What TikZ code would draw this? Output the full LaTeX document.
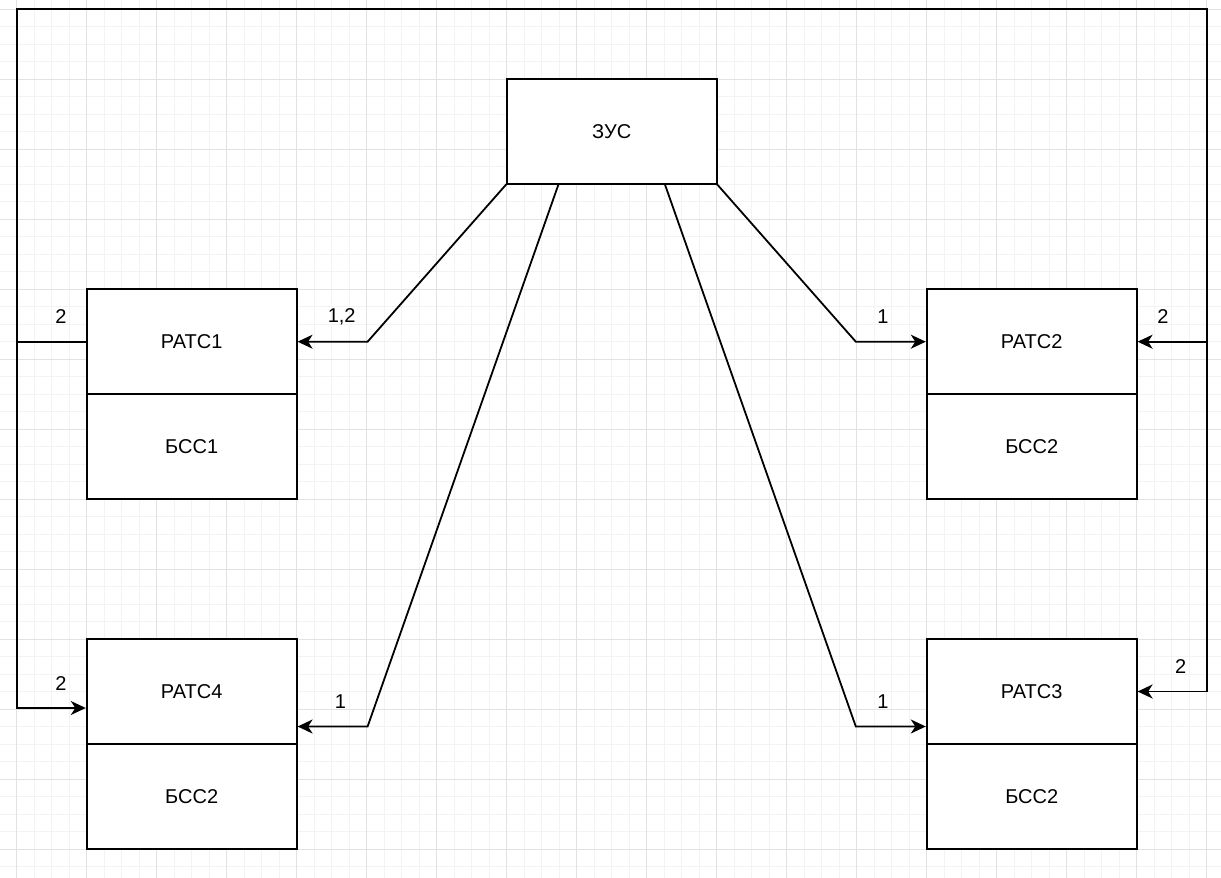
\documentclass[tikz,border=0pt]{standalone}
\usepackage{fontspec}
\setmainfont{Liberation Sans}
\usetikzlibrary{arrows.meta,calc}
\tikzset{
  blk/.style={draw=black, fill=white, line width=1.8pt, minimum width=210pt, minimum height=105pt, inner sep=0pt, font=\fontsize{20}{24}\selectfont},
  wire/.style={draw=black, line width=1.8pt, line cap=rect},
  arr/.style={wire, -{Stealth[length=15pt,width=14pt,inset=4.5pt]}},
  lbl/.style={font=\fontsize{20}{24}\selectfont, inner sep=0pt},
  gminor/.style={draw={rgb,255:red,243;green,243;blue,243}, line width=0.8pt},
  gmajor/.style={draw={rgb,255:red,226;green,226;blue,226}, line width=0.9pt}
}
\begin{document}
\begin{tikzpicture}[x={(1pt,0)}, y={(0,-1pt)}]
\fill[white] (0,0) rectangle (1221,878);
\useasboundingbox (0,0) rectangle (1221,878);
% grid
\foreach \i in {0,...,70} {
  \pgfmathsetmacro{\gx}{-0.8+17.5*\i}
  \draw[gminor] (\gx,0) -- (\gx,878);
}
\foreach \i in {0,...,51} {
  \pgfmathsetmacro{\gy}{-8.5+17.5*\i}
  \draw[gminor] (0,\gy) -- (1221,\gy);
}
\foreach \i in {0,...,17} {
  \pgfmathsetmacro{\gx}{16.7+70*\i}
  \draw[gmajor] (\gx,0) -- (\gx,878);
}
\foreach \i in {0,...,12} {
  \pgfmathsetmacro{\gy}{9+70*\i}
  \draw[gmajor] (0,\gy) -- (1221,\gy);
}
% blocks
\node[blk] (zus) at (611.7,131.5) {ЗУС};
\node[blk] (r1) at (191.7,341.7) {РАТС1};
\node[blk] (b1) at (191.7,446.5) {БСС1};
\node[blk] (r4) at (191.7,691.5) {РАТС4};
\node[blk] (b4) at (191.7,796.5) {БСС2};
\node[blk] (r2) at (1031.7,341.7) {РАТС2};
\node[blk] (b2) at (1031.7,446.5) {БСС2};
\node[blk] (r3) at (1031.7,691.5) {РАТС3};
\node[blk] (b3) at (1031.7,796.5) {БСС2};
% frame corners
\coordinate (tl) at (16.7,9);
\coordinate (tr) at (1206.7,9);
% connectors from ZUS
\draw[arr, line join=miter] (zus.south west) -- ($(r1.east)+(70,0)$) -- (r1.east);
\draw[arr, line join=miter] ($(zus.south west)+(52.5,0)$) -- ($(r4.east)+(70,35)$) -- ($(r4.east)+(0,35)$);
\draw[arr, line join=miter] ($(zus.south east)+(-52.5,0)$) -- ($(r3.west)+(-70,35)$) -- ($(r3.west)+(0,35)$);
\draw[arr, line join=miter] (zus.south east) -- ($(r2.west)+(-70,0)$) -- (r2.west);
% outer loop
\draw[wire] (tl) -- (tr);
\draw[wire] (r1.west) -- (r1.west -| tl);
\draw[arr] (tl) |- ($(r4.west)+(0,16.5)$);
\draw[arr] (tr) |- (r2.east);
\draw[arr] (tr) |- (r3.east);
% labels
\node[lbl] (l1) at (61,316.7) {2};
\node[lbl] (l2) at (341.7,316.7) {1,2};
\node[lbl] (l3) at (61,683.3) {2};
\node[lbl] (l4) at (340.5,701.7) {1};
\node[lbl] (l5) at (883,316.7) {1};
\node[lbl] (l6) at (1163,316.7) {2};
\node[lbl] (l7) at (883,701.7) {1};
\node[lbl] (l8) at (1180.7,666.7) {2};
\end{tikzpicture}
\end{document}
